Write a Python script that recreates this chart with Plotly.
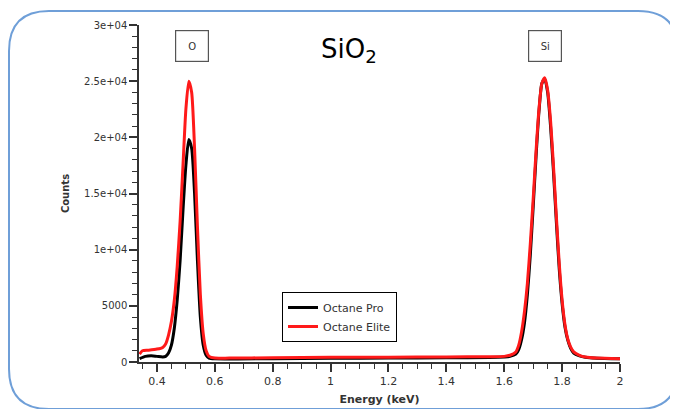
import plotly.graph_objects as go

# ---- data ----
energy_elite = [0.34, 0.35, 0.37, 0.40, 0.42, 0.43, 0.44, 0.45, 0.46, 0.47, 0.48, 0.49, 0.50, 0.51,
                0.52, 0.53, 0.54, 0.55, 0.56, 0.57, 0.58, 0.60, 0.65, 0.80, 1.00, 1.20, 1.40, 1.55,
                1.60, 1.62, 1.64, 1.65, 1.66, 1.67, 1.68, 1.69, 1.70, 1.71, 1.72, 1.73, 1.74, 1.75,
                1.76, 1.77, 1.78, 1.79, 1.80, 1.81, 1.82, 1.83, 1.84, 1.86, 1.88, 1.92, 2.00]
counts_elite = [700, 1000, 1050, 1150, 1300, 1600, 2400, 3600, 5500, 8500, 12500, 17500, 22500, 25000,
                24000, 19000, 12000, 6000, 2500, 1000, 500, 350, 350, 380, 420, 430, 450, 470,
                500, 600, 900, 1500, 2700, 4500, 7000, 10500, 14500, 18800, 22500, 24800, 25300, 24200,
                21500, 17500, 13000, 8800, 5500, 3300, 2000, 1300, 900, 600, 450, 350, 300]

energy_pro = [0.34, 0.36, 0.38, 0.40, 0.42, 0.43, 0.44, 0.45, 0.46, 0.47, 0.48, 0.49, 0.50, 0.51,
              0.52, 0.53, 0.54, 0.55, 0.56, 0.57, 0.58, 0.60, 0.80, 1.00, 1.20, 1.40, 1.55,
              1.60, 1.62, 1.64, 1.65, 1.66, 1.67, 1.68, 1.69, 1.70, 1.71, 1.72, 1.73, 1.74, 1.75,
              1.76, 1.77, 1.78, 1.79, 1.80, 1.81, 1.82, 1.83, 1.84, 1.86, 1.88, 1.92, 2.00]
counts_pro = [300, 500, 550, 500, 450, 500, 800, 1500, 3000, 5500, 9000, 13500, 17500, 19800,
              19000, 15000, 9000, 4000, 1500, 600, 350, 280, 300, 330, 350, 370, 400,
              450, 500, 700, 1100, 2000, 3500, 6000, 9500, 13800, 18300, 22300, 24800, 25200, 24000,
              21000, 17000, 12500, 8300, 5200, 3100, 1900, 1200, 800, 550, 420, 330, 280]

series_names = ["Octane Pro", "Octane Elite"]
y_tick_vals = [0, 5000, 10000, 15000, 20000, 25000, 30000]
y_tick_text = ["0", "5000", "1e+04", "1.5e+04", "2e+04", "2.5e+04", "3e+04"]
x_tick_vals = [0.4, 0.6, 0.8, 1.0, 1.2, 1.4, 1.6, 1.8, 2.0]
x_tick_text = ["0.4", "0.6", "0.8", "1", "1.2", "1.4", "1.6", "1.8", "2"]
peak_labels = [("O", 0.52), ("Si", 1.74)]

# page body adds an 8px offset; lay out in screen pixels and compensate
OFF = 8
W, H = 678 - OFF, 409 - OFF
L, T = 139 - OFF, 25 - OFF
R = W - (620 - OFF)
B = H - (362 - OFF)
pw, ph = W - L - R, H - T - B

def px(x):  # screen pixel -> paper
    return (x - OFF - L) / pw

def py(y):
    return (H - B - (y - OFF)) / ph

fig = go.Figure()
fig.add_trace(go.Scatter(x=energy_pro, y=counts_pro, mode="lines", name=series_names[0],
                         line=dict(color="black", width=3, shape="spline", smoothing=0.6)))
fig.add_trace(go.Scatter(x=energy_elite, y=counts_elite, mode="lines", name=series_names[1],
                         line=dict(color="#ff1a1a", width=3, shape="spline", smoothing=0.6)))

# rounded border
x0, x1, y0, y1, r = 9, 678, 11, 409, 40
path = (f"M {px(x0+r)},{py(y0)} L {px(x1-r)},{py(y0)} Q {px(x1)},{py(y0)} {px(x1)},{py(y0+r)} "
        f"L {px(x1)},{py(y1-r)} Q {px(x1)},{py(y1)} {px(x1-r)},{py(y1)} "
        f"L {px(x0+r)},{py(y1)} Q {px(x0)},{py(y1)} {px(x0)},{py(y1-r)} "
        f"L {px(x0)},{py(y0+r)} Q {px(x0)},{py(y0)} {px(x0+r)},{py(y0)} Z")
fig.add_shape(type="path", path=path, xref="paper", yref="paper",
              line=dict(color="#6f9fd8", width=2), layer="below")

for lab, xv in peak_labels:
    fig.add_annotation(x=xv, y=py(46), xref="x", yref="paper", text=lab, showarrow=False,
                       xanchor="center", yanchor="middle",
                       font=dict(size=10, color="#333", family="DejaVu Sans"),
                       bordercolor="#555", borderwidth=1.2, borderpad=5, width=22, height=20)

fig.add_annotation(x=px(349), y=py(50), xref="paper", yref="paper",
                   xanchor="center", yanchor="middle",
                   text="SiO<sub>2</sub>", showarrow=False,
                   font=dict(size=26, color="black", family="DejaVu Sans"))

fig.update_layout(
    width=W, height=H,
    margin=dict(l=L, r=R, t=T, b=B, pad=0, autoexpand=False),
    paper_bgcolor="white", plot_bgcolor="white",
    font=dict(family="DejaVu Sans", color="#333"),
    showlegend=True,
    legend=dict(x=px(282), y=py(292), xanchor="left", yanchor="top",
                bordercolor="black", borderwidth=1, bgcolor="white",
                font=dict(size=11, color="#333"), itemwidth=30, tracegroupgap=0),
    xaxis=dict(range=[0.338, 2.0], showgrid=False, zeroline=False, showline=True, automargin=False,
               linecolor="#333", linewidth=1.5, ticks="outside", ticklen=8, tickwidth=1.5,
               tickcolor="#333", tickvals=x_tick_vals, ticktext=x_tick_text,
               tickfont=dict(size=11, color="#333"),
               minor=dict(dtick=0.05, tick0=0, ticks="outside", ticklen=5, tickcolor="#333", tickwidth=1),
               title=dict(text="<b>Energy (keV)</b>", font=dict(size=11, color="#333"), standoff=8)),
    yaxis=dict(range=[0, 30000], showgrid=False, zeroline=False, showline=True, automargin=False,
               linecolor="#333", linewidth=1.5, ticks="outside", ticklen=8, tickwidth=1.5,
               tickcolor="#333", tickvals=y_tick_vals, ticktext=y_tick_text,
               tickfont=dict(size=10, color="#333"),
               minor=dict(dtick=1000, tick0=0, ticks="outside", ticklen=5, tickcolor="#333", tickwidth=1),
               title=dict(text="<b>Counts</b>", font=dict(size=10, color="#333"), standoff=13)),
)

fig.write_html("out.html")
